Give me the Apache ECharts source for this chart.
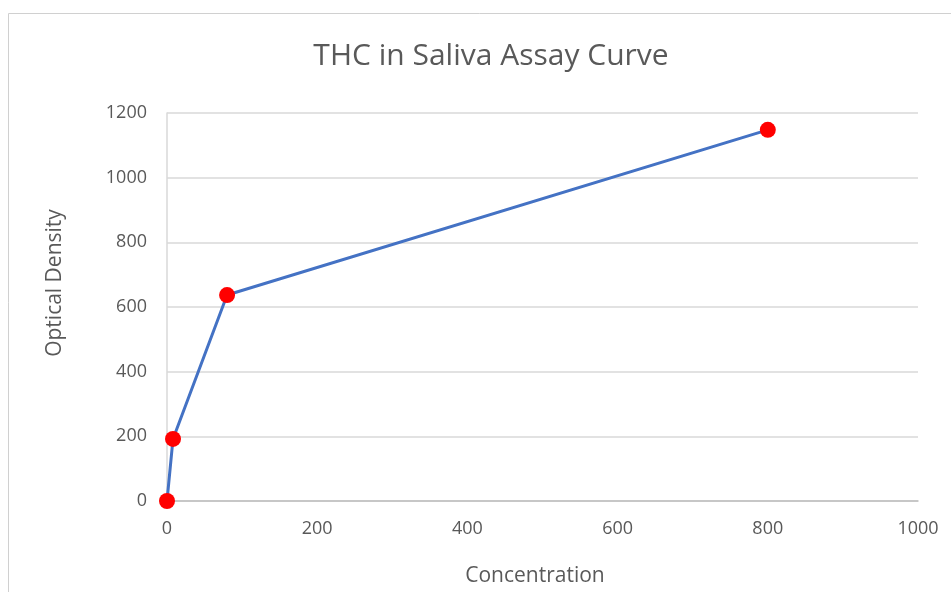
<!DOCTYPE html>
<html><head><meta charset="utf-8">
<script src="https://cdn.jsdelivr.net/npm/echarts@6/dist/echarts.min.js"></script>
<style>html,body{margin:0;padding:0;background:#fff}#c{width:951px;height:592px}</style>
</head><body><div id="c"></div>
<script>
const concentration = [0, 8, 80, 800];
const opticalDensity = [0, 192, 637, 1148];
const titleText = 'THC in Saliva Assay Curve';
const xTitle = 'Concentration';
const yTitle = 'Optical Density';

const chart = echarts.init(document.getElementById('c'));
const font = 'Open Sans, Noto Sans, sans-serif';
chart.setOption({
  animation: false,
  backgroundColor: '#fff',
  title: { text: titleText, left: 486, top: 36, textAlign: 'center',
    textStyle: { fontFamily: font, fontSize: 30, fontWeight: 'normal', color: '#595959' } },
  graphic: [
    { type: 'polyline', shape: { points: [[8.5, 592], [8.5, 13.5], [951, 13.5]] },
      style: { stroke: '#d0d0d0', lineWidth: 1, fill: null } },
    { type: 'text', x: 535, y: 576,
      style: { text: xTitle, font: '21px ' + font, fill: '#595959', align: 'center', verticalAlign: 'middle' } },
    { type: 'text', x: 55, y: 283, rotation: Math.PI / 2,
      style: { text: yTitle, font: '21px ' + font, fill: '#595959', align: 'center', verticalAlign: 'middle' } }
  ],
  grid: { left: 167, right: 33, top: 113, bottom: 91 },
  xAxis: { type: 'value', min: 0, max: 1000, interval: 200,
    axisLine: { show: true, lineStyle: { color: '#bfbfbf', width: 1.5 } },
    axisTick: { show: false }, splitLine: { show: false },
    axisLabel: { fontFamily: font, fontSize: 18, color: '#595959', margin: 19,
      formatter: v => String(v) } },
  yAxis: { type: 'value', min: 0, max: 1200, interval: 200,
    axisLine: { show: true, lineStyle: { color: '#d9d9d9', width: 1.5 } },
    axisTick: { show: false },
    splitLine: { show: true, lineStyle: { color: '#d9d9d9', width: 1.5 } },
    axisLabel: { fontFamily: font, fontSize: 18, color: '#595959', margin: 20,
      formatter: v => String(v) } },
  series: [{ type: 'line', data: concentration.map((c, i) => [c, opticalDensity[i]]),
    symbol: 'circle', symbolSize: 16,
    lineStyle: { color: '#4472C4', width: 3 },
    itemStyle: { color: '#ff0000' } }]
});
</script></body></html>
